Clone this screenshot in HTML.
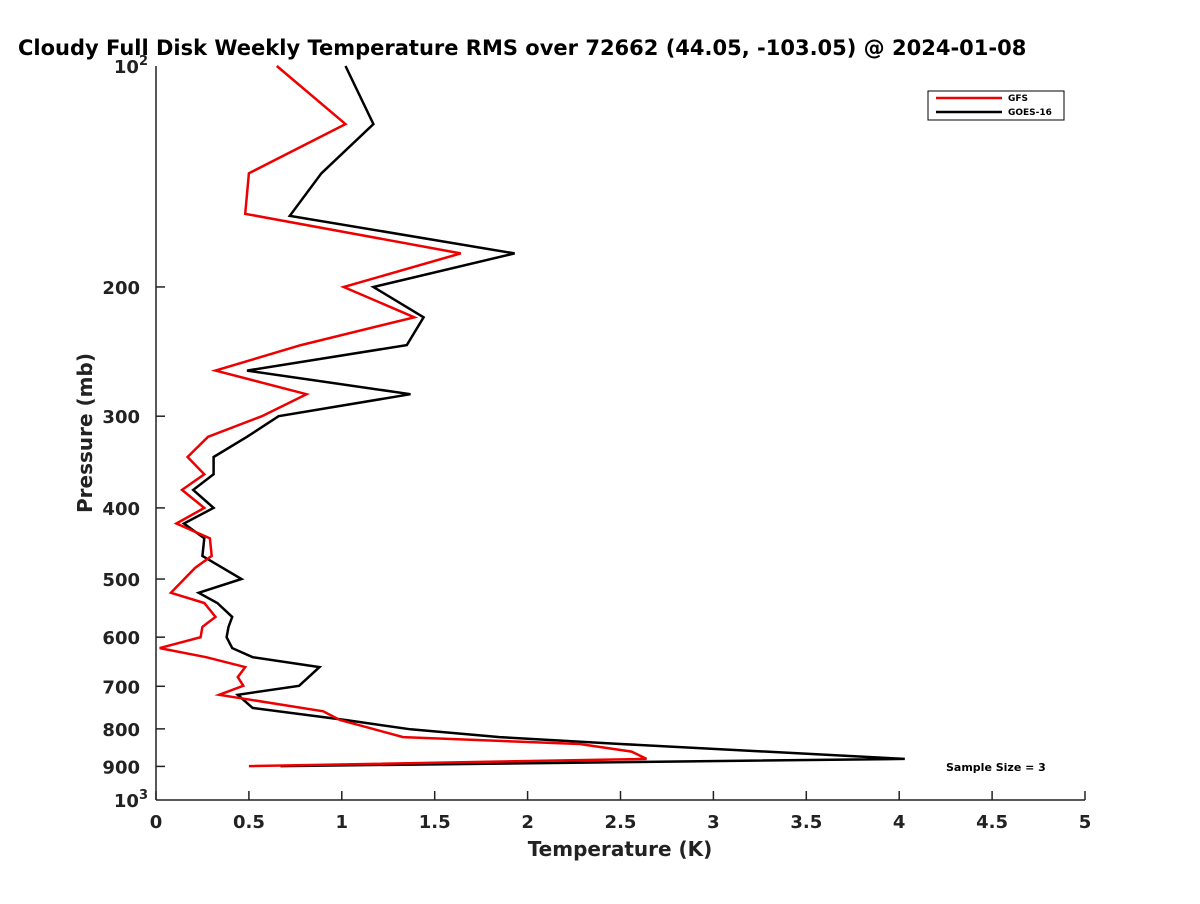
<!DOCTYPE html>
<html><head><meta charset="utf-8"><style>
body{margin:0;background:#fff;width:1200px;height:900px;overflow:hidden;font-family:"DejaVu Sans",sans-serif}
</style></head><body>
<svg width="1200" height="900" style="font-family:'DejaVu Sans',sans-serif;font-weight:bold">
<text x="18" y="55" font-size="21" fill="#000">Cloudy Full Disk Weekly Temperature RMS over 72662 (44.05, -103.05) @ 2024-01-08</text>
<g id="axes"></g>
<g id="series"></g>
<g>
<rect x="928" y="91" width="136" height="29" fill="#fff" stroke="#000" stroke-width="1"/>
<line x1="936" y1="98" x2="1002" y2="98" stroke="#e00" stroke-width="2.5"/>
<text x="1008" y="101" font-size="9">GFS</text>
<line x1="936" y1="112" x2="1002" y2="112" stroke="#000" stroke-width="2.5"/>
<text x="1008" y="115" font-size="9">GOES-16</text>
</g>
<text x="946" y="771" font-size="11">Sample Size = 3</text>
<text x="620" y="856" font-size="20" text-anchor="middle" fill="#222">Temperature (K)</text>
<text transform="translate(92,433) rotate(-90)" font-size="20" text-anchor="middle" fill="#222">Pressure (mb)</text>
</svg>
<script>
const goesP=[100,120,140,160,180,200,220,240,260,280,300,320,341,360,378,400,420,440,465,500,522,539,563,581,600,621,639,659,699,719,749,778,801,821,839,879,899];
const goesT=[1.02,1.17,0.89,0.72,1.93,1.17,1.44,1.35,0.49,1.37,0.66,0.49,0.31,0.31,0.20,0.31,0.15,0.26,0.25,0.46,0.23,0.33,0.41,0.39,0.38,0.41,0.52,0.88,0.77,0.44,0.52,1.02,1.37,1.85,2.50,4.03,0.67];
const gfsP=[100,120,140,159,180,200,220,240,260,280,300,320,341,360,378,400,420,440,465,483,522,539,563,581,600,621,639,659,680,699,719,757,778,821,839,859,879,899];
const gfsT=[0.65,1.02,0.50,0.48,1.64,1.01,1.39,0.78,0.32,0.81,0.57,0.28,0.17,0.26,0.14,0.26,0.11,0.29,0.30,0.21,0.08,0.26,0.32,0.25,0.24,0.02,0.27,0.48,0.44,0.47,0.34,0.90,0.99,1.33,2.28,2.56,2.64,0.50];
const xTicks=[0,0.5,1,1.5,2,2.5,3,3.5,4,4.5,5];
const yTicks=[200,300,400,500,600,700,800,900];
const X0=156,X1=1085,Y0=66,Y1=800;
const xs=v=>X0+(v/5)*(X1-X0);
const ys=p=>Y0+Math.log10(p/100)*(Y1-Y0);
const NS="http://www.w3.org/2000/svg";
const axes=document.getElementById('axes'),ser=document.getElementById('series');
function mk(t,a,par){const e=document.createElementNS(NS,t);for(const k in a)e.setAttribute(k,a[k]);par.appendChild(e);return e;}
const yl=mk('line',{x1:X0,y1:Y0,x2:X0,y2:Y1,stroke:'#222','stroke-width':1.5},axes);


const xl=mk('line',{x1:X0,y1:Y1,x2:X1,y2:Y1,stroke:'#222','stroke-width':1.5},axes);


xTicks.forEach(v=>{const x=xs(v);
mk('line',{x1:x,y1:Y1,x2:x,y2:Y1-9,stroke:'#222','stroke-width':1.5},axes);
const t=mk('text',{x:x,y:Y1+28,'font-size':18,'text-anchor':'middle',fill:'#222'},axes);t.textContent=String(v);

});
yTicks.forEach(p=>{const y=ys(p);
mk('line',{x1:X0,y1:y,x2:X0+9,y2:y,stroke:'#222','stroke-width':1.5},axes);
const t=mk('text',{x:X0-16,y:y+7,'font-size':18,'text-anchor':'end',fill:'#222'},axes);t.textContent=String(p);

});
[[100,Y0],[1000,Y1]].forEach(([p,y])=>{
const t=mk('text',{x:X0-8,y:y+7,'font-size':18,'text-anchor':'end',fill:'#222'},axes);
t.innerHTML='10<tspan dy="-8" font-size="13">'+(p===100?'2':'3')+'</tspan>';

});
function line(T,P,c,name){const d=T.map((v,i)=>xs(v).toFixed(1)+','+ys(P[i]).toFixed(1)).join(' ');
const e=mk('polyline',{points:d,fill:'none',stroke:c,'stroke-width':2.5,'stroke-linejoin':'miter'},ser);

}
line(goesT,goesP,'#000','goes16-line');
line(gfsT,gfsP,'#e00','gfs-line');
</script>
</body></html>
